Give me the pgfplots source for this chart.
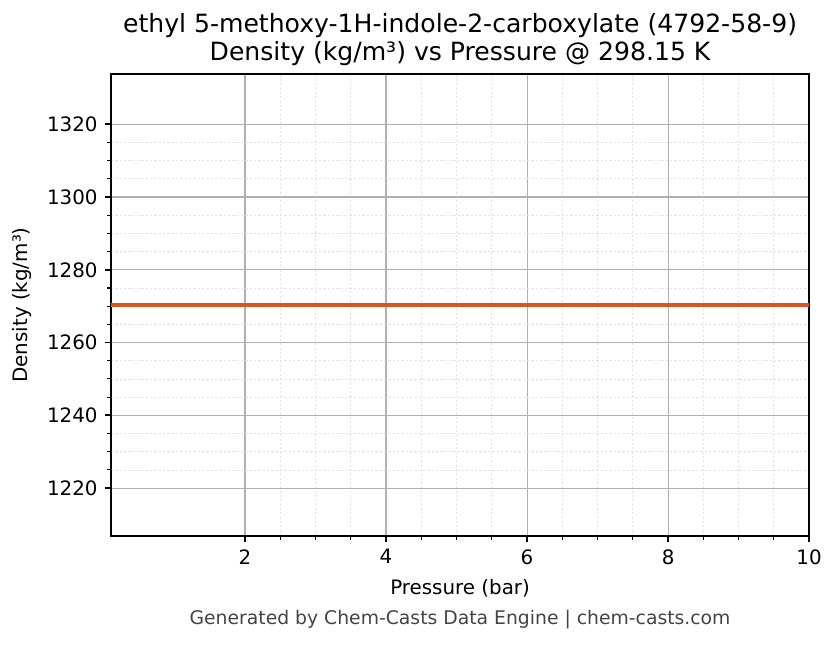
\documentclass[border=0pt]{standalone}
\usepackage{pgfplots}
\pgfplotsset{compat=1.18}
\usepackage{fontspec}
\setmainfont{DejaVu Sans}
\definecolor{lineor}{RGB}{217,84,30}
\definecolor{gridmaj}{RGB}{176,176,176}
\definecolor{gridmin}{RGB}{226,226,226}
\definecolor{foot}{RGB}{68,68,68}
\begin{document}
\begin{tikzpicture}[x=1pt,y=1pt]
% px -> pt factor 0.5538
\path[use as bounding box] (-61.5,-59.8) rectangle (401.5,296.9);
\begin{axis}[
    at={(0,0)}, anchor=south west,
    scale only axis,
    width=386.6pt, height=255.9pt,
    xmin=0.1, xmax=10,
    ymin=1206.8, ymax=1333.8,
    xtick={2,4,6,8,10},
    minor x tick num=3,
    ytick={1220,1240,...,1320},
    minor y tick num=3,
    tick align=outside,
    tick pos=left,
    major tick length=3.4pt,
    minor tick length=2pt,
    every tick/.style={black, line width=0.9pt},
    every minor tick/.style={black, line width=0.6pt},
    axis line style={black, line width=1pt},
    grid=both,
    major grid style={gridmaj, line width=0.6pt},
    minor grid style={gridmin, dash pattern=on 1.2pt off 1.2pt, line width=0.4pt},
    ticklabel style={font=\fontsize{11}{13}\selectfont},
    /pgf/number format/assume math mode=true,
    /pgf/number format/1000 sep={},
    xticklabel style={yshift=-0.5pt},
    yticklabel style={xshift=-0.5pt},
  ]
  \addplot[lineor, line width=1.8pt] coordinates {
    (0.1,1270.3) (1,1270.3) (2,1270.3) (3,1270.3) (4,1270.3) (5,1270.3)
    (6,1270.3) (7,1270.3) (8,1270.3) (9,1270.3) (10,1270.3)
  };
\end{axis}
\node[font=\fontsize{13.9}{16}\selectfont] at (193.3,283.0) {ethyl 5-methoxy-1H-indole-2-carboxylate (4792-58-9)};
\node[font=\fontsize{13.9}{16}\selectfont] at (193.3,267.5) {Density (kg/m³) vs Pressure @ 298.15 K};
\node[font=\fontsize{11}{13}\selectfont] at (193.3,-29.0) {Pressure (bar)};
\node[font=\fontsize{11}{13}\selectfont, rotate=90] at (-49.3,128.0) {Density (kg/m³)};
\node[font=\fontsize{10.4}{12}\selectfont, text=foot] at (193.3,-46.0) {Generated by Chem-Casts Data Engine | chem-casts.com};
\end{tikzpicture}
\end{document}
